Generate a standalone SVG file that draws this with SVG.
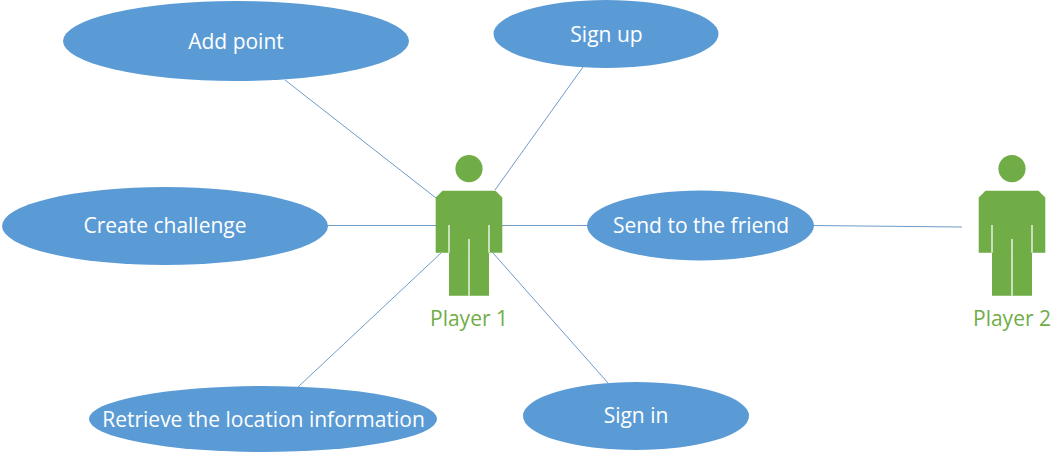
<svg xmlns="http://www.w3.org/2000/svg" width="1064" height="455" viewBox="0 0 1064 455">
<style>
.uc{fill:#5b9bd5}
.ut{fill:#fff;font:21px "Open Sans","Noto Sans",sans-serif;text-anchor:middle;dominant-baseline:central}
.ac{fill:#70ad47}
.at{fill:#70ad47;font:21px "Open Sans","Noto Sans",sans-serif;text-anchor:middle}
.sl{stroke:#f0f6ec;stroke-width:1.4;fill:none}
#connectors line{stroke:#6f9bc8;stroke-width:1}
</style>
<defs>
<g id="actor">
<circle class="ac" cx="0" cy="-57.3" r="13.6"/>
<path class="ac" d="M-26.5-35.3H26.500L33.300-28.500V26.700H20V69.700H-20V26.700H-33.300V-28.500Z"/>
<path class="sl" d="M-20-1V26.700M20-1V26.700M0 13V69.700"/>
</g>
</defs>
<rect width="1064" height="455" fill="#fff"/>
<g id="connectors">
<line x1="285" y1="80" x2="436" y2="198"/>
<line x1="583" y1="67" x2="495" y2="190"/>
<line x1="327" y1="225.500" x2="436" y2="225.500"/>
<line x1="502" y1="225.500" x2="588" y2="225.500"/>
<line x1="812" y1="225.500" x2="962" y2="227"/>
<line x1="298" y1="387" x2="441" y2="253"/>
<line x1="608" y1="383" x2="493" y2="253"/>
</g>
<g id="add-point"><ellipse class="uc" cx="236" cy="41" rx="173" ry="40"/><text class="ut" x="236" y="41">Add point</text></g>
<g id="sign-up"><ellipse class="uc" cx="606" cy="34" rx="112.500" ry="34"/><text class="ut" x="606.500" y="34">Sign up</text></g>
<g id="create-challenge"><ellipse class="uc" cx="165" cy="226" rx="163" ry="39"/><text class="ut" x="165" y="225">Create challenge</text></g>
<g id="send-friend"><ellipse class="uc" cx="700.500" cy="225.500" rx="113.500" ry="35"/><text class="ut" x="701" y="225">Send to the friend</text></g>
<g id="retrieve"><ellipse class="uc" cx="263" cy="419" rx="174" ry="33"/><text class="ut" x="263.500" y="419">Retrieve the location information</text></g>
<g id="sign-in"><ellipse class="uc" cx="636" cy="416" rx="113" ry="34"/><text class="ut" x="636" y="415">Sign in</text></g>
<g id="player-1"><use href="#actor" x="469" y="226"/><text class="at" x="469" y="326">Player 1</text></g>
<g id="player-2"><use href="#actor" x="1012" y="226"/><text class="at" x="1012" y="326">Player 2</text></g>
</svg>
